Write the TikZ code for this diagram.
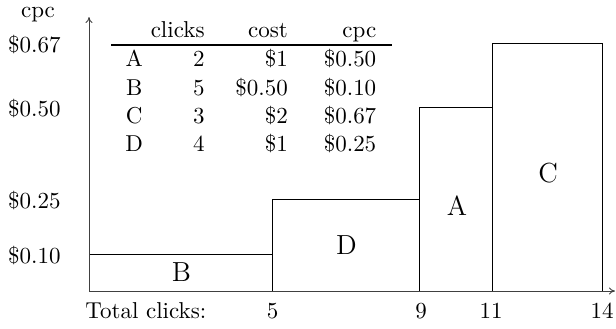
\documentclass[tikz,border=0pt]{standalone}
\usetikzlibrary{arrows.meta}
\begin{document}
\begin{tikzpicture}[x=0.435pt,y=-0.435pt,
  axis/.style={draw=black!75,line width=0.4pt,-{To[length=2.6pt,width=3pt]}},
  bar/.style={draw=black,line width=0.4pt},
  txt/.style={inner sep=0pt,anchor=base},
  rtxt/.style={inner sep=0pt,anchor=base east},
  barlabel/.style={inner sep=0pt,anchor=center,font=\large},
  tablerule/.style={draw=black,line width=0.8pt}]
\useasboundingbox (0,0) rectangle (616,328);

% axes
\coordinate (O) at (89,291);
\coordinate (ytop) at (89,17);
\coordinate (xend) at (615,291);

% bars: width = clicks, height = cost per click
\draw[bar] (89,291) rectangle (272.5,254.3);
\draw[bar] (272.5,291) rectangle (419.3,199.3);
\draw[bar] (419.3,291) rectangle (492.7,107.7);
\draw[bar] (492.7,291) rectangle (602.7,43.3);

\draw[axis] (O) -- (ytop);
\draw[axis] (O) -- (xend);

% bar labels
\node[barlabel] (lB) at (181.5,272.5) {B};
\node[barlabel] (lD) at (346.5,245.5) {D};
\node[barlabel] (lA) at (457,205.8) {A};
\node[barlabel] (lC) at (548,172.8) {C};

% y axis
\node[txt] (ylab) at (38,17) {cpc};
\node[rtxt] (y67) at (61,52.7) {\$0.67};
\node[rtxt] (y50) at (61,116.7) {\$0.50};
\node[rtxt] (y25) at (61,208.8) {\$0.25};
\node[rtxt] (y10) at (61,263.3) {\$0.10};

% x axis
\node[txt,anchor=base west] (xlab) at (85,318.3) {Total clicks:};
\node[txt] (x5) at (272.5,318.3) {5};
\node[txt] (x9) at (421,318.3) {9};
\node[txt] (x11) at (491,318.3) {11};
\node[txt] (x14) at (602,318.3) {14};

% table
\node[rtxt] (hclicks) at (205,37) {clicks};
\node[rtxt] (hcost) at (288.3,37) {cost};
\node[rtxt] (hcpc) at (376.7,37) {cpc};
\coordinate (rl) at (111,45.3);
\coordinate (rr) at (391.7,45.3);
\draw[tablerule] (rl) -- (rr);

\node[txt] (nA) at (134.2,66.7) {A};
\node[rtxt] (cA) at (205,66.7) {2};
\node[rtxt] (sA) at (288.3,66.7) {\$1};
\node[rtxt] (pA) at (376.7,66.7) {\$0.50};

\node[txt] (nB) at (134.2,95) {B};
\node[rtxt] (cB) at (205,95) {5};
\node[rtxt] (sB) at (288.3,95) {\$0.50};
\node[rtxt] (pB) at (376.7,95) {\$0.10};

\node[txt] (nC) at (134.2,123.3) {C};
\node[rtxt] (cC) at (205,123.3) {3};
\node[rtxt] (sC) at (288.3,123.3) {\$2};
\node[rtxt] (pC) at (376.7,123.3) {\$0.67};

\node[txt] (nD) at (134.2,151.7) {D};
\node[rtxt] (cD) at (205,151.7) {4};
\node[rtxt] (sD) at (288.3,151.7) {\$1};
\node[rtxt] (pD) at (376.7,151.7) {\$0.25};
\end{tikzpicture}
\end{document}
